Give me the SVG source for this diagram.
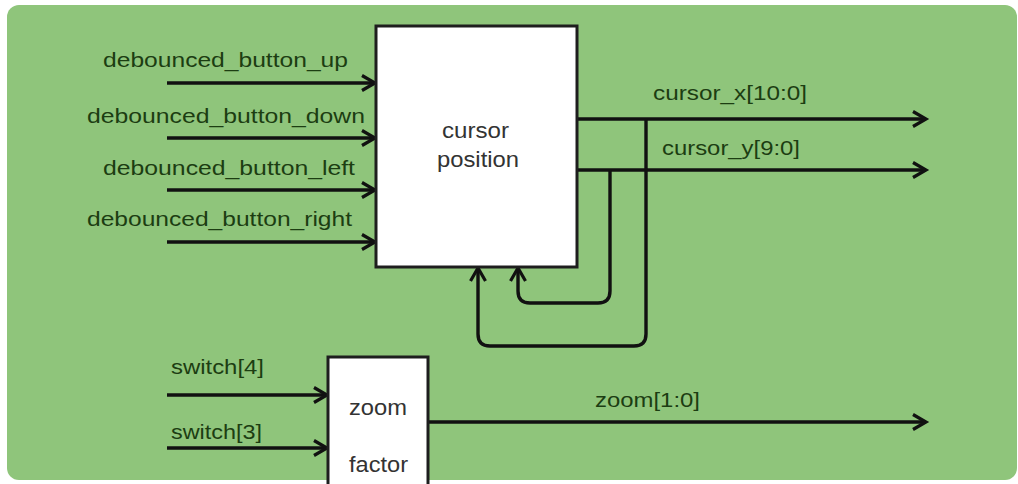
<svg xmlns="http://www.w3.org/2000/svg" width="1018" height="484" viewBox="0 0 1018 484">
<style>
.lbl{font-family:"Liberation Sans",Arial,sans-serif;font-size:20px;fill:#1c3d12}
.btxt{font-family:"Liberation Sans",Arial,sans-serif;font-size:22px;fill:#333}
.box{fill:#fff;stroke:#1e1e1e;stroke-width:3}
.wire{fill:none;stroke:#111;stroke-width:3.4}
</style>
<defs>
<marker id="arr" markerUnits="userSpaceOnUse" markerWidth="20" markerHeight="20" refX="15" refY="10" orient="auto">
<path d="M2,2.5 L15,10 L2,17.5" fill="none" stroke="#111" stroke-width="3.2" stroke-linejoin="miter"/>
</marker>
</defs>
<rect x="0" y="0" width="1018" height="484" fill="#fff"/>
<rect x="7" y="5" width="1010" height="475" rx="12" fill="#8fc57b"/>
<g id="connectors">
<line class="wire" x1="167" y1="83" x2="375" y2="83" marker-end="url(#arr)"/>
<line class="wire" x1="167" y1="138" x2="375" y2="138" marker-end="url(#arr)"/>
<line class="wire" x1="167" y1="190" x2="375" y2="190" marker-end="url(#arr)"/>
<line class="wire" x1="167" y1="242" x2="375" y2="242" marker-end="url(#arr)"/>
<line class="wire" x1="577" y1="119" x2="926" y2="119" marker-end="url(#arr)"/>
<line class="wire" x1="577" y1="170" x2="926" y2="170" marker-end="url(#arr)"/>
<path class="wire" d="M610,170 V291 Q610,303 598,303 H530 Q518,303 518,291 V268" marker-end="url(#arr)"/>
<path class="wire" d="M646,119 V334 Q646,346 634,346 H490 Q478,346 478,334 V268" marker-end="url(#arr)"/>
<line class="wire" x1="167" y1="395" x2="327" y2="395" marker-end="url(#arr)"/>
<line class="wire" x1="167" y1="448" x2="327" y2="448" marker-end="url(#arr)"/>
<line class="wire" x1="428" y1="422" x2="926" y2="422" marker-end="url(#arr)"/>
<text class="lbl" x="103" y="67" textLength="245" lengthAdjust="spacingAndGlyphs">debounced_button_up</text>
<text class="lbl" x="87" y="123" textLength="278" lengthAdjust="spacingAndGlyphs">debounced_button_down</text>
<text class="lbl" x="103" y="175" textLength="252" lengthAdjust="spacingAndGlyphs">debounced_button_left</text>
<text class="lbl" x="87" y="226" textLength="265" lengthAdjust="spacingAndGlyphs">debounced_button_right</text>
<text class="lbl" x="653" y="100" textLength="154" lengthAdjust="spacingAndGlyphs">cursor_x[10:0]</text>
<text class="lbl" x="662" y="155" textLength="138" lengthAdjust="spacingAndGlyphs">cursor_y[9:0]</text>
<text class="lbl" x="171" y="374" textLength="93" lengthAdjust="spacingAndGlyphs">switch[4]</text>
<text class="lbl" x="171" y="439" textLength="91" lengthAdjust="spacingAndGlyphs">switch[3]</text>
<text class="lbl" x="595" y="407" textLength="105" lengthAdjust="spacingAndGlyphs">zoom[1:0]</text>
</g>
<g id="cursor_position">
<rect class="box" x="376" y="26" width="201" height="241"/>
<text class="btxt" x="442" y="138" textLength="67" lengthAdjust="spacingAndGlyphs">cursor</text>
<text class="btxt" x="437" y="167" textLength="82" lengthAdjust="spacingAndGlyphs">position</text>
</g>
<g id="zoom_factor">
<rect class="box" x="328" y="357" width="100" height="135"/>
<text class="btxt" x="349" y="415" textLength="58" lengthAdjust="spacingAndGlyphs">zoom</text>
<text class="btxt" x="349" y="472" textLength="59" lengthAdjust="spacingAndGlyphs">factor</text>
</g>
</svg>
